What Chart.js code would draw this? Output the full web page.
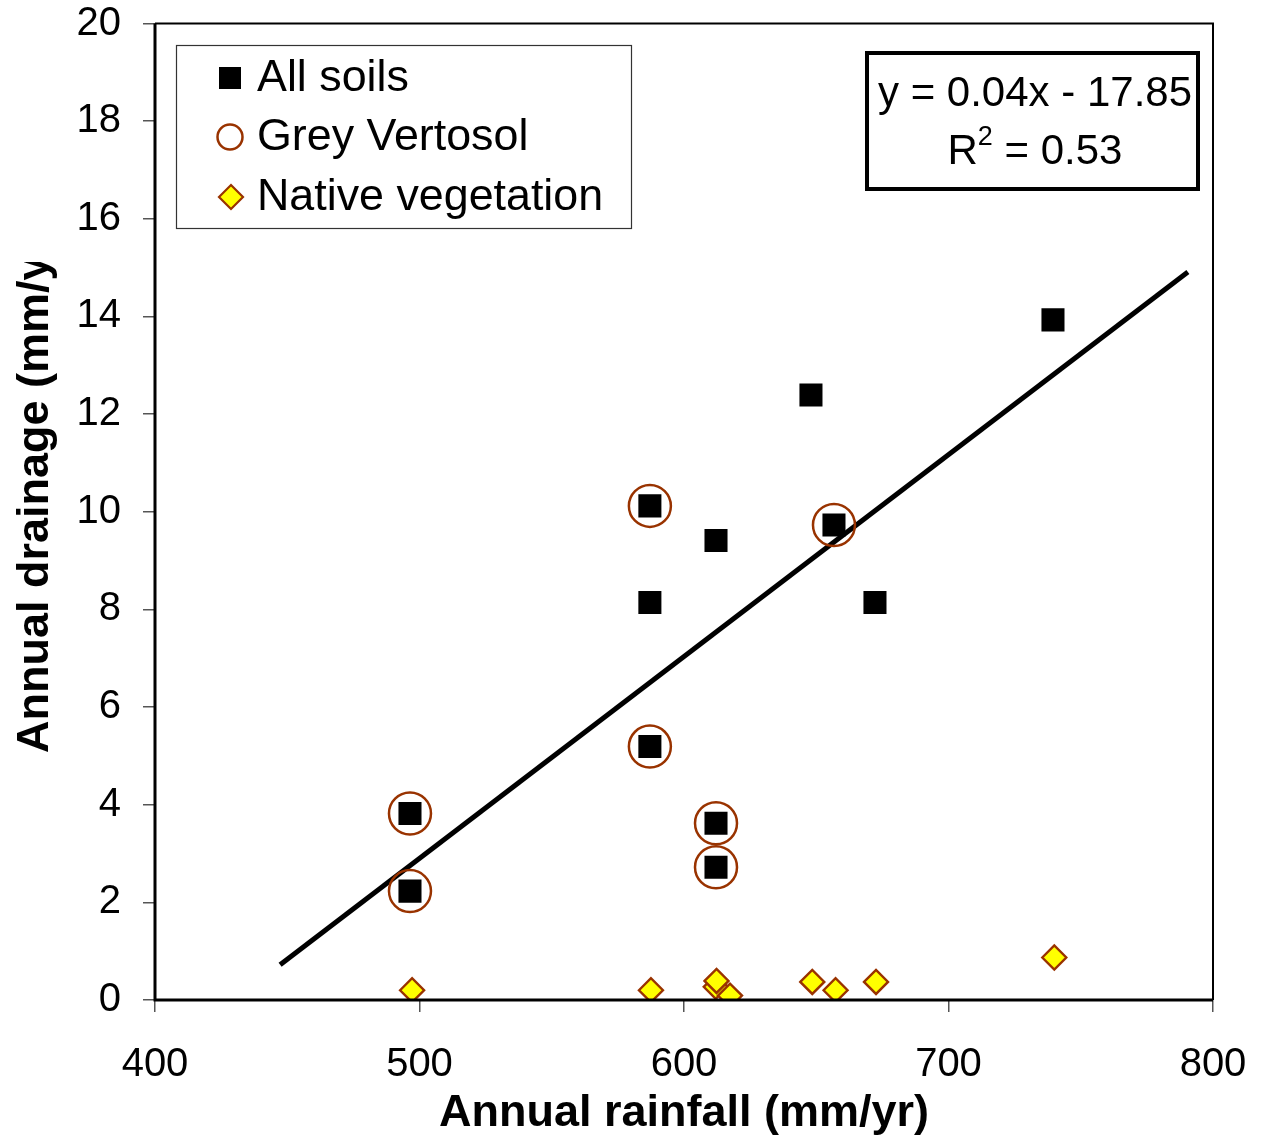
<!DOCTYPE html>
<html><head><meta charset="utf-8">
<script src="https://cdn.jsdelivr.net/npm/chart.js@4.4.1/dist/chart.umd.min.js"></script>
<style>html,body{margin:0;padding:0;background:#fff;} #wrap{width:1265px;height:1139px;position:relative;}</style>
</head><body><div id="wrap"><canvas id="c" width="1265" height="1139" style="width:1265px;height:1139px"></canvas></div>
<script>
// ---- data ----
const allSoilsRain  = [496.4, 496.4, 587.1, 587.1, 587.1, 612.1, 612.1, 612.1, 648.0, 656.7, 672.2, 739.5];
const allSoilsDrain = [2.23, 3.82, 5.19, 8.14, 10.12, 9.41, 3.62, 2.72, 12.39, 9.73, 8.14, 13.93];
const vertosolRain  = [496.4, 496.4, 587.1, 587.1, 612.1, 612.1, 656.7];
const vertosolDrain = [2.23, 3.82, 5.19, 10.12, 3.62, 2.72, 9.73];
const nativeRain    = [497.2, 587.5, 612.0, 612.3, 617.4, 648.5, 657.3, 672.6, 740.0];
const nativeDrain   = [0.20, 0.20, 0.27, 0.39, 0.09, 0.37, 0.20, 0.37, 0.87];
const trendRain     = [447.3, 790.5];
const trendDrain    = [0.72, 14.91];
const xTicks = [400, 500, 600, 700, 800];
const yTicks = [0, 2, 4, 6, 8, 10, 12, 14, 16, 18, 20];
const seriesNames = ['All soils', 'Grey Vertosol', 'Native vegetation'];
const xTitle = 'Annual rainfall (mm/yr)';
const yTitle = 'Annual drainage (mm/yr)';
const eqLine1 = 'y = 0.04x - 17.85';
const eqR2 = '0.53';

const FONT = '"Liberation Sans", Arial, sans-serif';
const BROWN = '#993300';

function pts(xs, ys) { return xs.map((x, i) => ({x: x, y: ys[i]})); }

const overlay = {
  id: 'overlay',
  afterDraw(chart) {
    const ctx = chart.ctx;
    const a = chart.chartArea;
    ctx.save();
    // plot frame
    ctx.strokeStyle = '#000';
    ctx.lineWidth = 2;
    ctx.beginPath();
    ctx.moveTo(a.left, a.top); ctx.lineTo(a.right, a.top); ctx.lineTo(a.right, a.bottom);
    ctx.stroke();
    ctx.lineWidth = 3;
    ctx.beginPath();
    ctx.moveTo(a.left, a.top); ctx.lineTo(a.left, a.bottom); ctx.lineTo(a.right, a.bottom);
    ctx.stroke();

    // axis titles
    ctx.fillStyle = '#000';
    ctx.font = 'bold 45px ' + FONT;
    ctx.textAlign = 'center';
    ctx.textBaseline = 'middle';
    ctx.fillText(xTitle, (a.left + a.right) / 2, 1114);
    ctx.save();
    ctx.beginPath(); ctx.rect(0, 262, 80, 900); ctx.clip();
    ctx.translate(36, 488);
    ctx.rotate(-Math.PI / 2);
    ctx.fillText(yTitle, 0, 0);
    ctx.restore();

    // legend box
    ctx.fillStyle = '#fff';
    ctx.fillRect(176, 45, 455, 183);
    ctx.strokeStyle = '#333';
    ctx.lineWidth = 1.2;
    ctx.strokeRect(176.5, 45.5, 455, 183);
    const ly = [78, 137, 197];
    ctx.fillStyle = '#000';
    ctx.fillRect(219, ly[0] - 11, 22, 22);
    ctx.strokeStyle = BROWN; ctx.lineWidth = 2.5;
    ctx.beginPath(); ctx.arc(230, ly[1], 12.5, 0, Math.PI * 2); ctx.stroke();
    ctx.fillStyle = '#ffff00'; ctx.strokeStyle = BROWN; ctx.lineWidth = 2.2;
    ctx.beginPath();
    ctx.moveTo(219, ly[2]); ctx.lineTo(231, ly[2] - 12); ctx.lineTo(243, ly[2]); ctx.lineTo(231, ly[2] + 12);
    ctx.closePath(); ctx.fill(); ctx.stroke();
    ctx.fillStyle = '#000';
    ctx.font = '44.8px ' + FONT;
    ctx.textAlign = 'left';
    ctx.textBaseline = 'middle';
    seriesNames.forEach((n, i) => ctx.fillText(n, 257, ly[i] + 1));

    // equation box
    ctx.fillStyle = '#fff';
    ctx.fillRect(867, 53, 331, 136);
    ctx.strokeStyle = '#000'; ctx.lineWidth = 4;
    ctx.strokeRect(867, 53, 331, 136);
    ctx.fillStyle = '#000';
    ctx.font = '42px ' + FONT;
    ctx.textAlign = 'center';
    ctx.fillText(eqLine1, 1035, 94);
    const p1 = 'R', p3 = ' = ' + eqR2;
    ctx.textAlign = 'left';
    const wR = ctx.measureText(p1).width;
    const w3 = ctx.measureText(p3).width;
    ctx.font = '27px ' + FONT;
    const w2 = ctx.measureText('2').width;
    const total = wR + w2 + w3;
    const sx = 1035 - total / 2;
    ctx.font = '42px ' + FONT;
    ctx.fillText(p1, sx, 152);
    ctx.font = '27px ' + FONT;
    ctx.fillText('2', sx + wR, 138);
    ctx.font = '42px ' + FONT;
    ctx.fillText(p3, sx + wR + w2, 152);
    ctx.restore();
  }
};

new Chart(document.getElementById('c'), {
  type: 'scatter',
  data: {
    datasets: [
      { label: seriesNames[0], data: pts(allSoilsRain, allSoilsDrain), pointStyle: 'rect',
        pointRadius: 16.3, backgroundColor: '#000', borderColor: '#000', borderWidth: 0 },
      { label: seriesNames[1], data: pts(vertosolRain, vertosolDrain), pointStyle: 'circle',
        pointRadius: 21, backgroundColor: 'rgba(0,0,0,0)', borderColor: BROWN, borderWidth: 2.5 },
      { label: seriesNames[2], data: pts(nativeRain, nativeDrain), pointStyle: 'rectRot',
        pointRadius: 12, backgroundColor: '#ffff00', borderColor: BROWN, borderWidth: 2.4 },
      { label: 'trend', type: 'line', data: pts(trendRain, trendDrain), showLine: true,
        borderColor: '#000', borderWidth: 5, pointRadius: 0, fill: false }
    ]
  },
  options: {
    responsive: false,
    animation: false,
    devicePixelRatio: 1,
    layout: { padding: { left: 0, right: 52, top: 22, bottom: 0 } },
    plugins: { legend: { display: false }, tooltip: { enabled: false } },
    scales: {
      x: {
        type: 'linear', min: 400, max: 800,
        afterBuildTicks: s => { s.ticks = xTicks.map(v => ({value: v})); },
        afterFit: s => { s.height = 139; s.paddingLeft = 0; s.paddingRight = 0; },
        grid: { display: true, drawOnChartArea: false, drawTicks: true, tickLength: 12, color: '#555', lineWidth: 1.5 },
        border: { display: false },
        ticks: { font: { family: FONT, size: 40 }, color: '#000', padding: 29, maxRotation: 0 }
      },
      y: {
        type: 'linear', min: 0, max: 20,
        afterBuildTicks: s => { s.ticks = yTicks.map(v => ({value: v})); },
        afterFit: s => { s.width = 155; s.paddingTop = 0; s.paddingBottom = 0; },
        grid: { display: true, drawOnChartArea: false, drawTicks: true, tickLength: 12, color: '#555', lineWidth: 1.5 },
        border: { display: false },
        ticks: { font: { family: FONT, size: 40 }, color: '#000', padding: 22 }
      }
    }
  },
  plugins: [overlay]
});
</script></body></html>
